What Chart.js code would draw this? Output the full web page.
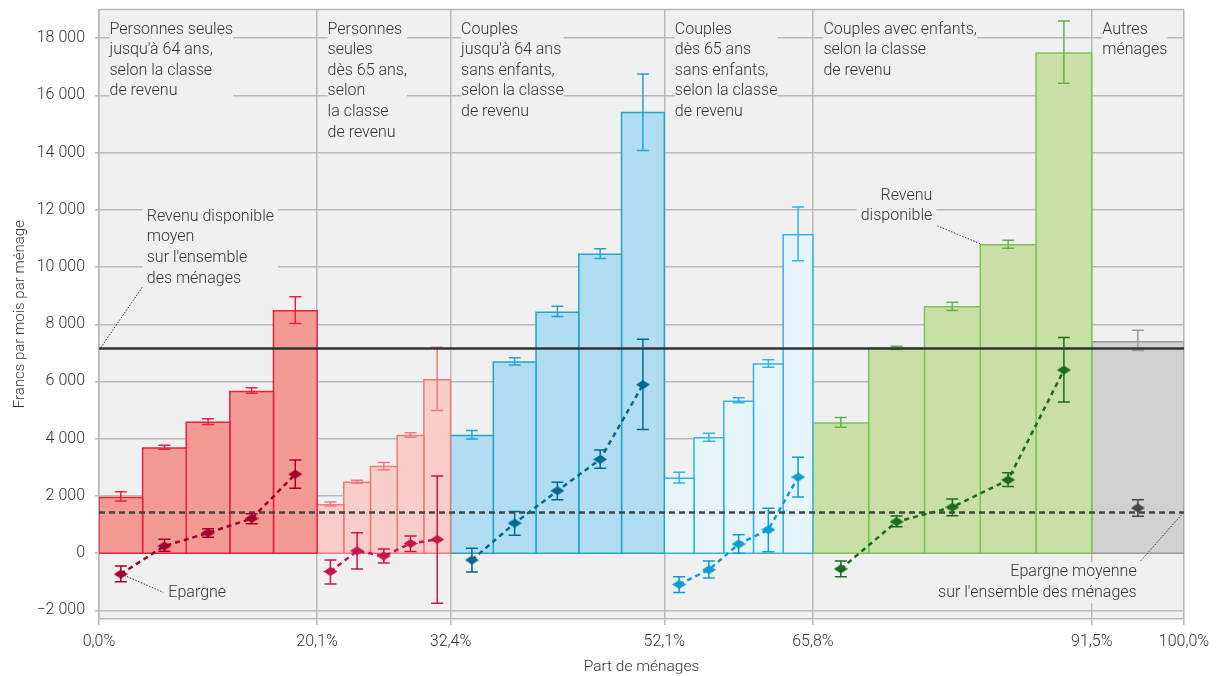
<!DOCTYPE html>
<html lang="fr">
<head>
<meta charset="utf-8">
<title>Revenu disponible et épargne des ménages</title>
<script src="https://cdn.jsdelivr.net/npm/chart.js@4.4.1/dist/chart.umd.min.js"></script>
<style>
  html, body { margin: 0; padding: 0; background: #fff; }
  #chart { display: block; }
</style>
</head>
<body>
<canvas id="chart" width="1224" height="676"></canvas>
<script>
// groupes de ménages et leur part (en %)
var groupLabels = [
    ["Personnes seules", "jusqu'à 64 ans,", "selon la classe", "de revenu"],
    ["Personnes", "seules", "dès 65 ans,", "selon", "la classe", "de revenu"],
    ["Couples", "jusqu'à 64 ans", "sans enfants,", "selon la classe", "de revenu"],
    ["Couples", "dès 65 ans", "sans enfants,", "selon la classe", "de revenu"],
    ["Couples avec enfants,", "selon la classe", "de revenu"],
    ["Autres", "ménages"]
];
var groupShares = [20.1, 12.3, 19.7, 13.7, 25.7, 8.5];

// revenu disponible (francs par mois) par classe de revenu
var income = [
    [1950, 3680, 4580, 5650, 8470],
    [1690, 2480, 3030, 4110, 6060],
    [4110, 6680, 8420, 10450, 15400],
    [2620, 4030, 5310, 6610, 11130],
    [4550, 7180, 8610, 10780, 17480],
    [7390]
];
var incomeLow = [
    [1820, 3630, 4500, 5590, 8030],
    [1650, 2440, 2920, 4050, 4990],
    [3990, 6580, 8270, 10300, 14070],
    [2450, 3910, 5260, 6500, 10220],
    [4400, 7120, 8480, 10660, 16420],
    [7080]
];
var incomeHigh = [
    [2150, 3770, 4700, 5780, 8960],
    [1790, 2550, 3170, 4210, 7200],
    [4290, 6830, 8630, 10640, 16750],
    [2830, 4190, 5430, 6760, 12100],
    [4740, 7230, 8770, 10940, 18600],
    [7790]
];

// epargne (francs par mois)
var savings = [
    [-730, 250, 710, 1210, 2760],
    [-640, 80, -100, 340, 480],
    [-240, 1050, 2180, 3280, 5890],
    [-1090, -580, 320, 820, 2660],
    [-550, 1100, 1610, 2560, 6400],
    [1580]
];
var savingsLow = [
    [-1000, 70, 560, 1030, 2270],
    [-1080, -550, -340, 60, -1750],
    [-660, 630, 1870, 2970, 4320],
    [-1370, -870, 0, 50, 1960],
    [-820, 920, 1310, 2330, 5280],
    [1290]
];
var savingsHigh = [
    [-450, 490, 850, 1380, 3260],
    [-240, 710, 150, 600, 2700],
    [170, 1460, 2480, 3610, 7480],
    [-820, -270, 640, 1570, 3350],
    [-270, 1300, 1890, 2810, 7540],
    [1870]
];

var meanIncome = 7150;
var meanSavings = 1420;
var yTicks = [-2000, 0, 2000, 4000, 6000, 8000, 10000, 12000, 14000, 16000, 18000];

var colors = [
    { fill: '#f29a93', line: '#e8213f', err: '#e8213f', sav: '#a3002e' },
    { fill: '#f9cdc8', line: '#f07b7b', err: '#f07b7b', sav: '#c8164a' },
    { fill: '#b0ddf1', line: '#1ea5d2', err: '#1ea5d2', sav: '#00698f' },
    { fill: '#e6f4fc', line: '#2fb5e2', err: '#2fb5e2', sav: '#0a9fd0' },
    { fill: '#c8e0a5', line: '#7dc35c', err: '#62b14a', sav: '#1c6a1c' },
    { fill: '#d0d1d1', line: '#9a9a9a', err: '#999999', sav: '#444444' }
];

// limites des groupes sur l'axe des x
var bounds = [0];
groupShares.forEach(function (s, g) {
    bounds.push(Math.round((bounds[g] + s) * 10) / 10);
});

function diamond(color) {
    var c = document.createElement('canvas');
    c.width = 14;
    c.height = 9;
    var cx = c.getContext('2d');
    cx.fillStyle = color;
    cx.beginPath();
    cx.moveTo(0, 4.5);
    cx.lineTo(7, 0);
    cx.lineTo(14, 4.5);
    cx.lineTo(7, 9);
    cx.closePath();
    cx.fill();
    return c;
}

function fmt(v) {
    var s = Math.abs(v).toString().replace(/\B(?=(\d{3})+(?!\d))/g, ' ');
    return (v < 0 ? '\u2212' : '') + s;
}

var datasets = [];
income.forEach(function (vals, g) {
    var w = groupShares[g] / vals.length;
    var errPts = [], savPts = [], savErrPts = [];
    vals.forEach(function (v, i) {
        var x0 = bounds[g] + w * i, x1 = x0 + w, xm = x0 + w / 2;
        datasets.push({
            data: [{x: x0, y: 0}, {x: x0, y: v}, {x: x1, y: v}, {x: x1, y: 0}, {x: x0, y: 0}],
            borderColor: colors[g].line,
            backgroundColor: colors[g].fill,
            borderWidth: 1.5,
            fill: 'shape',
            pointRadius: 0,
            order: 10
        });
        errPts.push({x: xm, y: incomeLow[g][i]}, {x: xm, y: incomeHigh[g][i]}, {x: xm, y: null});
        savPts.push({x: xm, y: savings[g][i]});
        savErrPts.push({x: xm, y: savingsLow[g][i]}, {x: xm, y: savingsHigh[g][i]}, {x: xm, y: null});
    });
    datasets.push({
        data: errPts,
        borderColor: colors[g].err,
        borderWidth: 1.5,
        pointStyle: 'line',
        pointRadius: 6,
        pointBorderWidth: 1.5,
        pointBorderColor: colors[g].err,
        spanGaps: false,
        order: 8
    });
    datasets.push({
        data: savErrPts,
        borderColor: colors[g].sav,
        borderWidth: 1.5,
        pointStyle: 'line',
        pointRadius: 6,
        pointBorderWidth: 1.5,
        pointBorderColor: colors[g].sav,
        spanGaps: false,
        order: 4
    });
    datasets.push({
        data: savPts,
        borderColor: colors[g].sav,
        borderWidth: 2.5,
        borderDash: [5, 4],
        pointStyle: diamond(colors[g].sav),
        pointRadius: 7,
        order: 2
    });
});

// moyennes sur l'ensemble des ménages
datasets.push({
    data: [{x: 0, y: meanIncome}, {x: 100, y: meanIncome}],
    borderColor: '#333333',
    borderWidth: 2.5,
    pointRadius: 0,
    order: 6
});
datasets.push({
    data: [{x: 0, y: meanSavings}, {x: 100, y: meanSavings}],
    borderColor: '#444444',
    borderWidth: 2.5,
    borderDash: [6, 4],
    pointRadius: 0,
    order: 6
});

// textes: position en valeurs des axes
var notes = [
    { lines: ["Revenu disponible", "moyen", "sur l'ensemble", "des ménages"], x: 4.4, y: 11755, align: 'left' },
    { lines: ["Epargne"], x: 6.39, y: -1403, align: 'left' },
    { lines: ["Revenu", "disponible"], x: 76.8, y: 12487, align: 'right' },
    { lines: ["Epargne moyenne", "sur l'ensemble des ménages"], x: 95.64, y: -672, align: 'right' }
];
var leaders = [
    [3.99, 9294, 0.1, meanIncome],
    [2.33, -776, 5.93, -1368],
    [77.26, 11442, 81.2, 10816],
    [96.01, -268, 99.88, 1392]
];

var FONT = '300 16px Roboto';
var LINE_H = 20.6;

function drawBlock(ctx, lines, x, yTop, align, pad) {
    ctx.font = FONT;
    var w = 0;
    lines.forEach(function (l) { w = Math.max(w, ctx.measureText(l).width); });
    var left = align === 'right' ? x - w : x;
    ctx.fillStyle = '#f0f0f0';
    ctx.fillRect(left - pad, yTop - LINE_H / 2, w + pad * 2, LINE_H * lines.length);
    ctx.fillStyle = '#333333';
    ctx.textAlign = align;
    ctx.textBaseline = 'middle';
    lines.forEach(function (l, i) {
        ctx.fillText(l, x, yTop + i * LINE_H);
    });
}

var annotations = {
    id: 'annotations',
    beforeDraw: function (chart) {
        var a = chart.chartArea, ctx = chart.ctx;
        ctx.save();
        ctx.fillStyle = '#f0f0f0';
        ctx.fillRect(a.left, a.top, a.right - a.left, a.bottom - a.top);
        ctx.restore();
    },
    beforeDatasetsDraw: function (chart) {
        var a = chart.chartArea, ctx = chart.ctx;
        var xs = chart.scales.x, ys = chart.scales.y;
        ctx.save();
        ctx.strokeStyle = '#b8b8b8';
        ctx.lineWidth = 1.5;
        ctx.beginPath();
        ctx.moveTo(a.left, a.top);
        ctx.lineTo(a.right, a.top);
        ctx.stroke();
        groupLabels.forEach(function (lines, g) {
            drawBlock(ctx, lines, xs.getPixelForValue(bounds[g]) + 10.5, ys.getPixelForValue(18300), 'left', 0);
        });
        notes.forEach(function (n) {
            drawBlock(ctx, n.lines, xs.getPixelForValue(n.x), ys.getPixelForValue(n.y), n.align, 4);
        });
        ctx.restore();
    },
    afterDatasetsDraw: function (chart) {
        var ctx = chart.ctx;
        var xs = chart.scales.x, ys = chart.scales.y;
        ctx.save();
        ctx.strokeStyle = '#333333';
        ctx.lineWidth = 1;
        ctx.setLineDash([1.5, 1.5]);
        leaders.forEach(function (l) {
            ctx.beginPath();
            ctx.moveTo(xs.getPixelForValue(l[0]), ys.getPixelForValue(l[1]));
            ctx.lineTo(xs.getPixelForValue(l[2]), ys.getPixelForValue(l[3]));
            ctx.stroke();
        });
        ctx.restore();
    }
};

Chart.defaults.font.family = 'Roboto';
Chart.defaults.font.weight = '300';
Chart.defaults.font.size = 16;
Chart.defaults.color = '#333333';

new Chart('chart', {
    type: 'line',
    data: { datasets: datasets },
    options: {
        responsive: false,
        animation: false,
        events: [],
        layout: { padding: { top: 7, right: 40, left: 0, bottom: 0 } },
        plugins: {
            legend: { display: false },
            tooltip: { enabled: false }
        },
        scales: {
            x: {
                type: 'linear',
                min: 0,
                max: 100,
                afterBuildTicks: function (scale) {
                    scale.ticks = bounds.map(function (v) { return { value: v }; });
                },
                afterFit: function (scale) { scale.height = 57; },
                ticks: {
                    autoSkip: false,
                    maxRotation: 0,
                    padding: 7,
                    color: '#333333',
                    callback: function (v) { return v.toFixed(1).replace('.', ',') + '%'; }
                },
                grid: { color: '#b8b8b8', lineWidth: 1.5, tickLength: 6 },
                border: { color: '#b8b8b8', width: 1.5 },
                title: {
                    display: true,
                    text: 'Part de ménages',
                    color: '#333333',
                    font: { size: 15.5 },
                    padding: { top: 0, bottom: 0 }
                }
            },
            y: {
                min: -2300,
                max: 19000,
                afterBuildTicks: function (scale) {
                    scale.ticks = yTicks.map(function (v) { return { value: v }; });
                },
                afterFit: function (scale) {
                    scale.width = 99;
                    scale.paddingTop = 0;
                    scale.paddingBottom = 0;
                },
                ticks: {
                    padding: 10,
                    color: '#333333',
                    callback: function (v) { return fmt(v); }
                },
                grid: { color: '#b8b8b8', lineWidth: 1.5, tickLength: 4 },
                border: { color: '#b8b8b8', width: 1.5 },
                title: {
                    display: true,
                    text: 'Francs par mois par ménage',
                    color: '#333333',
                    font: { size: 15 },
                    padding: { top: 11, bottom: 0 }
                }
            }
        }
    },
    plugins: [annotations]
});
</script>
</body>
</html>
